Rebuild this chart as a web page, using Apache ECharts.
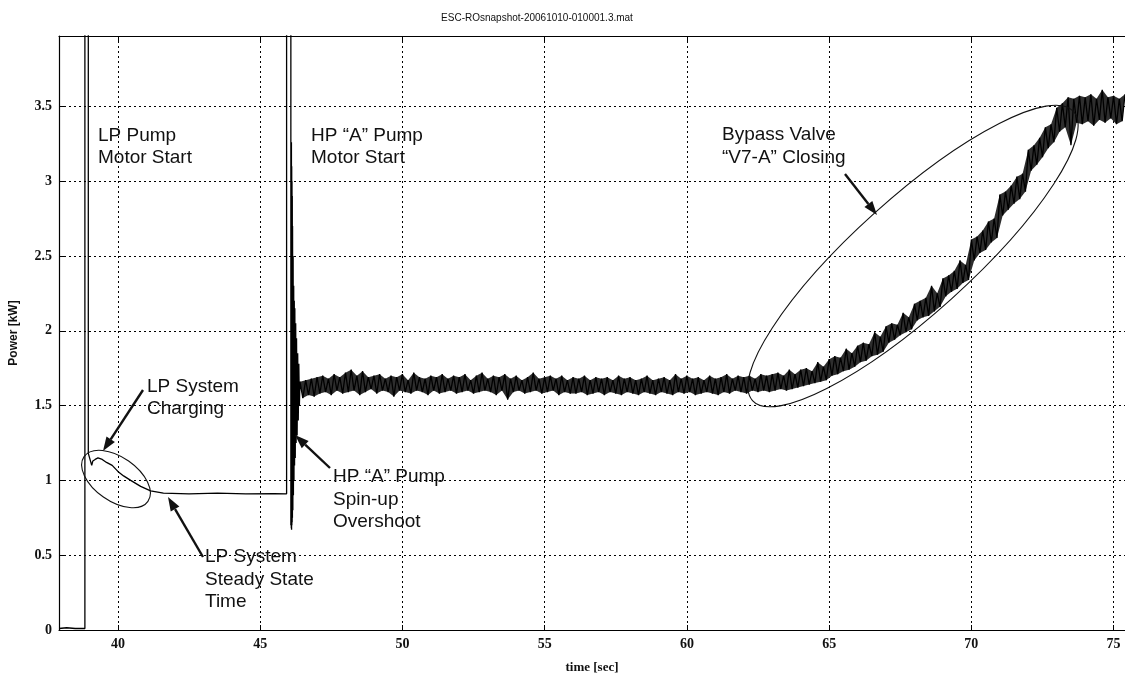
<!DOCTYPE html>
<html><head><meta charset="utf-8">
<script src="https://cdn.jsdelivr.net/npm/echarts@6/dist/echarts.min.js"></script>
<style>html,body{margin:0;padding:0;background:#fff}#c{width:1125px;height:679px}</style>
</head><body><div id="c"></div>
<script>
const titleText = 'ESC-ROsnapshot-20061010-010001.3.mat';
const xName = 'time [sec]';
const yName = 'Power [kW]';
const xTicks = [40, 45, 50, 55, 60, 65, 70, 75];
const yTicks = [0, 0.5, 1, 1.5, 2, 2.5, 3, 3.5];

// LP pump start, charging, steady state and HP pump start / spin-up overshoot
const startupT  = [37.93, 38.2, 38.5, 38.84, 38.84, 38.96, 38.96, 38.99, 39.05, 39.08, 39.12, 39.2, 39.3, 39.45, 39.6, 39.8, 40.0, 40.2, 40.45, 40.8, 41.15, 41.6, 42.5, 43.5, 44.5, 45.5, 45.93, 45.93, 46.08, 46.08,
  46.09, 46.095, 46.1, 46.105, 46.11, 46.115, 46.12, 46.125, 46.13, 46.135, 46.14, 46.15, 46.16, 46.17, 46.18, 46.19, 46.2, 46.21, 46.22, 46.235, 46.25, 46.265, 46.28, 46.3, 46.32, 46.34, 46.36, 46.38];
const startupKW = [0.01, 0.015, 0.01, 0.01, 4.3, 4.3, 1.18, 1.16, 1.12, 1.10, 1.13, 1.14, 1.15, 1.14, 1.12, 1.10, 1.06, 1.03, 1.00, 0.96, 0.93, 0.915, 0.91, 0.915, 0.91, 0.912, 0.91, 4.3, 4.3, 0.70,
  3.0, 0.68, 3.26, 0.67, 3.1, 0.70, 3.0, 0.72, 2.9, 0.75, 2.7, 0.80, 2.5, 0.90, 2.3, 1.0, 2.2, 1.1, 2.15, 1.15, 2.05, 1.25, 1.95, 1.3, 1.85, 1.4, 1.78, 1.5];

// Noisy HP pump running + bypass valve closing, sampled every 0.1 s from 46.4 s
const noisyStart = 46.4, noisyStep = 0.1;
const noisyKW = [
  1.66, 1.55, 1.67, 1.57, 1.68, 1.56,
  1.69, 1.58, 1.70, 1.59, 1.68, 1.57, 1.71, 1.60, 1.69, 1.58,
  1.72, 1.59, 1.74, 1.60, 1.70, 1.57, 1.73, 1.59, 1.69, 1.61,
  1.70, 1.58, 1.71, 1.60, 1.68, 1.59, 1.70, 1.56, 1.69, 1.60,
  1.71, 1.59, 1.67, 1.58, 1.72, 1.60, 1.69, 1.59, 1.68, 1.57,
  1.70, 1.60, 1.69, 1.58, 1.71, 1.59, 1.68, 1.60, 1.70, 1.58,
  1.69, 1.59, 1.71, 1.60, 1.67, 1.58, 1.70, 1.59, 1.72, 1.60,
  1.68, 1.59, 1.70, 1.57, 1.69, 1.60, 1.71, 1.54, 1.68, 1.59,
  1.70, 1.60, 1.67, 1.58, 1.69, 1.59, 1.72, 1.60, 1.68, 1.58,
  1.69, 1.59, 1.70, 1.60, 1.68, 1.57, 1.70, 1.59, 1.67, 1.58,
  1.69, 1.58, 1.68, 1.59, 1.70, 1.57, 1.67, 1.58, 1.69, 1.59,
  1.68, 1.57, 1.69, 1.59, 1.67, 1.58, 1.70, 1.57, 1.68, 1.59,
  1.69, 1.58, 1.67, 1.57, 1.68, 1.59, 1.70, 1.58, 1.67, 1.57,
  1.68, 1.59, 1.69, 1.58, 1.67, 1.57, 1.71, 1.59, 1.68, 1.58,
  1.70, 1.59, 1.68, 1.57, 1.69, 1.58, 1.67, 1.59, 1.70, 1.58,
  1.68, 1.57, 1.69, 1.59, 1.71, 1.58, 1.68, 1.60, 1.70, 1.59,
  1.69, 1.58, 1.70, 1.60, 1.68, 1.59, 1.71, 1.60, 1.70, 1.59,
  1.71, 1.60, 1.72, 1.61, 1.70, 1.60, 1.74, 1.61, 1.71, 1.62,
  1.74, 1.63, 1.75, 1.64, 1.73, 1.65, 1.79, 1.66, 1.76, 1.67,
  1.81, 1.70, 1.83, 1.71, 1.82, 1.73, 1.88, 1.74, 1.85, 1.76,
  1.90, 1.79, 1.92, 1.80, 1.91, 1.83, 1.99, 1.84, 1.96, 1.86,
  2.03, 1.92, 2.05, 1.94, 2.04, 1.97, 2.12, 1.99, 2.09, 2.01,
  2.18, 2.07, 2.20, 2.09, 2.22, 2.10, 2.30, 2.13, 2.25, 2.16,
  2.35, 2.23, 2.37, 2.26, 2.40, 2.28, 2.47, 2.32, 2.44, 2.34,
  2.61, 2.47, 2.63, 2.52, 2.67, 2.54, 2.73, 2.59, 2.75, 2.62,
  2.91, 2.77, 2.93, 2.81, 2.97, 2.85, 3.03, 2.88, 3.05, 2.93,
  3.21, 3.07, 3.24, 3.11, 3.29, 3.16, 3.36, 3.22, 3.38, 3.26,
  3.49, 3.33, 3.52, 3.36, 3.56, 3.24, 3.55, 3.39, 3.57, 3.38,
  3.56, 3.40, 3.58, 3.37, 3.55, 3.41, 3.61, 3.39, 3.56, 3.42,
  3.57, 3.38, 3.55, 3.40, 3.58
];

const noisyPts = noisyKW.map((v, i) => [+(noisyStart + i * noisyStep).toFixed(2), v]);
const traceData = startupT.map((t, i) => [t, startupKW[i]]).concat(noisyPts);

const chart = echarts.init(document.getElementById('c'), null, {renderer: 'canvas'});

const SANS = '"Liberation Sans", Arial, sans-serif';
const SERIF = '"Liberation Serif", "Times New Roman", serif';
const INK = '#111';

function label(lines, x, y0, lh) {
  return lines.map((s, i) => ({
    type: 'text', silent: true, z: 100,
    style: {text: s, x: x, y: y0 + i * lh, fill: INK, font: '19px ' + SANS, textVerticalAlign: 'middle'}
  }));
}
function arrow(x1, y1, x2, y2) {
  const dx = x2 - x1, dy = y2 - y1, L = Math.sqrt(dx * dx + dy * dy);
  const ux = dx / L, uy = dy / L, hl = 14, hw = 5;
  const bx = x2 - ux * hl, by = y2 - uy * hl;
  return [
    {type: 'line', silent: true, z: 100, shape: {x1: x1, y1: y1, x2: bx, y2: by}, style: {stroke: INK, lineWidth: 2.4}},
    {type: 'polygon', silent: true, z: 100, shape: {points: [[x2, y2], [bx - uy * hw, by + ux * hw], [bx + uy * hw, by - ux * hw]]}, style: {fill: INK}}
  ];
}
function ellipse(cx, cy, a, b, deg) {
  return {type: 'ellipse', silent: true, z: 100, x: cx, y: cy, rotation: deg * Math.PI / 180,
    shape: {cx: 0, cy: 0, rx: a, ry: b}, style: {fill: 'none', stroke: INK, lineWidth: 1.1}};
}

const graphics = [].concat(
  [{type: 'text', silent: true, style: {text: titleText, x: 537, y: 18, fill: INK, font: '10px ' + SANS, textAlign: 'center', textVerticalAlign: 'middle'}}],
  label(['LP Pump', 'Motor Start'], 98, 136, 22),
  label(['HP \u201cA\u201d Pump', 'Motor Start'], 311, 136, 22),
  label(['LP System', 'Charging'], 147, 387, 22),
  label(['HP \u201cA\u201d Pump', 'Spin-up', 'Overshoot'], 333, 477, 22.5),
  label(['LP System', 'Steady State', 'Time'], 205, 557, 22.5),
  label(['Bypass Valve', '\u201cV7-A\u201d Closing'], 722, 135, 23),
  arrow(143, 390, 103, 451),
  arrow(203, 557, 168, 497),
  arrow(330, 468, 295, 435),
  arrow(845, 174, 877, 215),
  [ellipse(116, 479, 39, 22, -35), ellipse(913, 256, 216, 57.6, 42)]
);

const gridLine = {show: true, lineStyle: {color: '#000', width: 1, type: [2, 3]}};

chart.setOption({
  animation: false,
  backgroundColor: '#fff',
  grid: {left: 57, right: 0, top: 36, bottom: 40, show: false},
  xAxis: [{
    type: 'value', min: 37.93, max: 75.4,
    name: xName, nameLocation: 'middle', nameGap: 31,
    nameTextStyle: {fontFamily: SERIF, fontSize: 13, fontWeight: 'bold', color: INK},
    axisLine: {show: true, onZero: false, lineStyle: {color: '#000', width: 1.2}},
    axisTick: {show: true, inside: true, length: 5, customValues: xTicks, lineStyle: {color: '#000'}},
    axisLabel: {customValues: xTicks, margin: 7, fontFamily: SERIF, fontSize: 14, fontWeight: 'bold', color: INK},
    splitLine: gridLine
  }, {
    type: 'value', min: 37.93, max: 75.4, position: 'top',
    axisLine: {show: true, onZero: false, lineStyle: {color: '#000', width: 1.2}},
    axisTick: {show: true, inside: true, length: 5, customValues: xTicks, lineStyle: {color: '#000'}},
    axisLabel: {show: false}, splitLine: {show: false}
  }],
  yAxis: {
    type: 'value', min: 0, max: 3.97,
    name: yName, nameLocation: 'middle', nameGap: 39,
    nameTextStyle: {fontFamily: SANS, fontSize: 12, fontWeight: 'bold', color: INK},
    axisLine: {show: true, onZero: false, lineStyle: {color: '#000', width: 1.2}},
    axisTick: {show: true, inside: true, length: 5, customValues: yTicks, lineStyle: {color: '#000'}},
    axisLabel: {customValues: yTicks, margin: 7, fontFamily: SERIF, fontSize: 14, fontWeight: 'bold', color: INK,
      formatter: v => String(v)},
    splitLine: gridLine
  },
  series: [{
    type: 'custom', silent: true, z: 8, clip: true,
    data: [noisyPts[0]],
    renderItem: (params, api) => {
      const top = [], bot = [];
      noisyPts.forEach((p, i) => { (i % 2 === 0 ? top : bot).push(api.coord(p)); });
      return {type: 'polygon', shape: {points: top.concat(bot.reverse())}, style: {fill: '#2e2e2e'}};
    }
  }, {
    type: 'line', data: traceData, showSymbol: false, symbol: 'none', sampling: 'none', clip: true,
    lineStyle: {color: '#000', width: 1.3}, z: 10
  }],
  graphic: graphics
});
</script></body></html>
